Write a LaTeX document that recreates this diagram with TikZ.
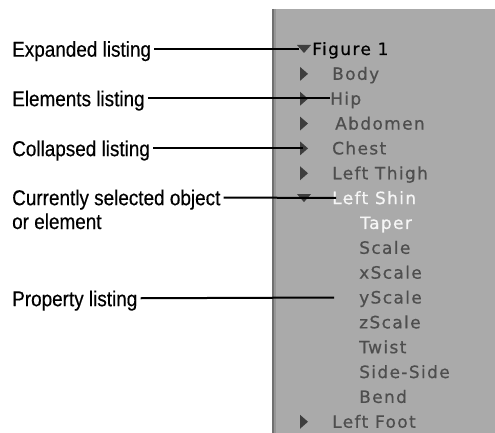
\documentclass[tikz,border=0pt]{standalone}
\usepackage{fontspec}
\setmainfont{Liberation Sans}
\newfontfamily\lblfont[FakeStretch=0.88, FakeBold=0.4]{Liberation Sans}
\newfontfamily\panelfont[LetterSpace=8, FakeBold=0.6]{DejaVu Sans}
\usepackage{tikz}
\usetikzlibrary{positioning,calc}
\definecolor{panelGray}{RGB}{170,170,170}
\definecolor{panelEdge}{RGB}{112,112,112}
\definecolor{panelShade}{RGB}{150,150,150}
\definecolor{itemGray}{RGB}{78,78,78}
\definecolor{itemWhite}{RGB}{246,246,246}
\definecolor{triGray}{RGB}{62,62,62}

\begin{document}
\begin{tikzpicture}[x=1pt, y=-1pt,
  lbl/.style={font=\lblfont\fontsize{21.5}{25}\selectfont, anchor=west, inner ysep=0pt,
              inner xsep=3pt, text height=15.4pt, text depth=0pt},
  item/.style={font=\panelfont\fontsize{17}{19}\selectfont, anchor=base west,
               inner sep=0pt, text height=12.4pt, text depth=0pt},
  tri/.style={fill=triGray},
  leader/.style={line width=2pt, black}
]
  \useasboundingbox (0,0) rectangle (495,433);

  % list panel
  \fill[panelGray] (272,9) rectangle (495,433);
  \draw[panelShade, line width=2pt] (275,9) -- (275,433);
  \draw[panelEdge, line width=1.5pt] (272.75,9) -- (272.75,433);

  % rows of the list
  \foreach \nm/\xx/\col/\txt [count=\i from 0] in {
      fig/312/black/Figure 1, body/332/itemGray/Body, hip/330/itemGray/Hip,
      abd/335/itemGray/Abdomen, chest/332/itemGray/Chest,
      thigh/332/itemGray/Left Thigh, shin/332/itemWhite/Left Shin,
      taper/360/itemWhite/Taper, scale/359/itemGray/Scale,
      xscale/359/itemGray/xScale, yscale/359/itemGray/yScale,
      zscale/359/itemGray/zScale, twist/359/itemGray/Twist,
      side/359/itemGray/Side-Side, bend/359/itemGray/Bend,
      foot/332/itemGray/Left Foot}
    \node[item, text=\col] (\nm) at (\xx,{55+24.85*\i}) {\txt};

  % collapsed and expanded markers
  \foreach \r in {1,...,5,15}
    \fill[tri] (300,{49+24.85*\r-7}) -- ++(8,7) -- ++(-8,7) -- cycle;
  \foreach \r in {0,6}
    \fill[tri] (297,{49+24.85*\r-4}) -- ++(14,0) -- ++(-7,8) -- cycle;
  \coordinate (figtri) at (299,49);
  \coordinate (chesttri) at (303,148.4);

  % callout labels
  \node[lbl] (lexp)  at (9,49)  {Expanded listing};
  \node[lbl] (lelem) at (9,98.5)  {Elements listing};
  \node[lbl] (lcoll) at (9,148.4) {Collapsed listing};
  \node[lbl] (lcur)  at (9,197.5) {Currently selected object};
  \node[lbl, below=8pt of lcur.south west, anchor=north west] (lcur2) {or element};
  \node[lbl] (lprop) at (9,298.5) {Property listing};

  \draw[leader] (lexp) -- (figtri);
  \draw[leader] (lelem) -- (hip);
  \draw[leader] (lcoll) -- (chesttri);
  \draw[leader, shorten >=-4pt] (lcur) -- (shin);
  \draw[leader, shorten >=25pt] (lprop) -- (yscale);
\end{tikzpicture}
\end{document}
